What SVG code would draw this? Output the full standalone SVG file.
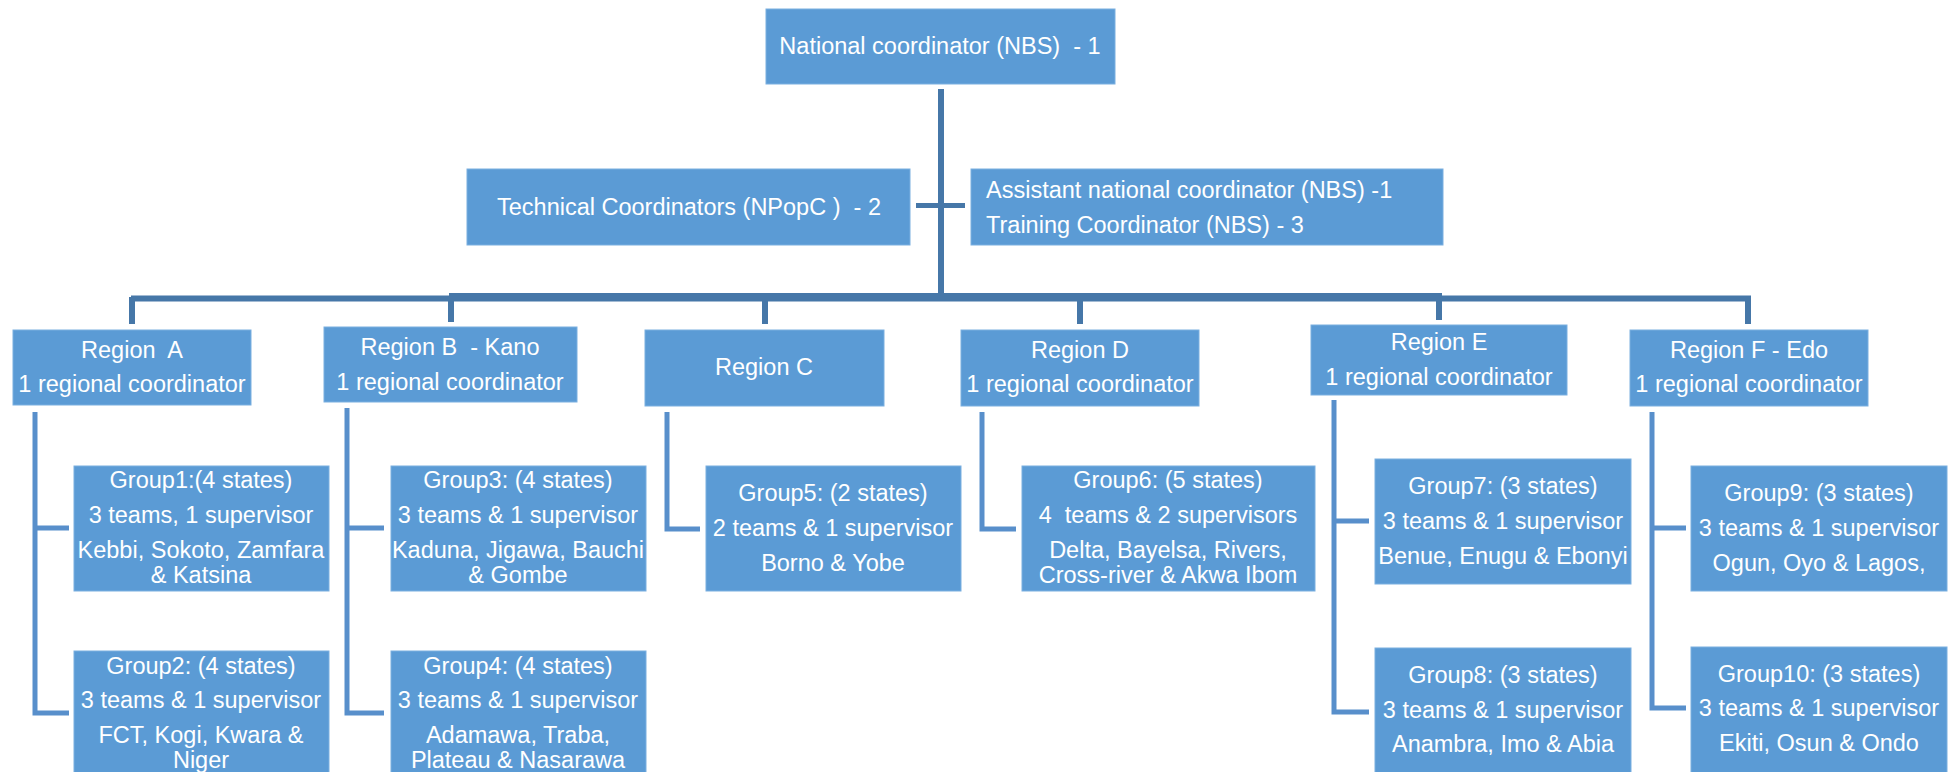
<svg xmlns="http://www.w3.org/2000/svg" width="1957" height="772" viewBox="0 0 1957 772" xml:space="preserve">
<style>
.box{fill:#5B9BD5;stroke:#7BAFE0;stroke-width:1}
.t{font-family:"Liberation Sans",Arial,sans-serif;font-size:23.5px;fill:#FFFFFF;text-anchor:middle;white-space:pre}
.tl{text-anchor:start}
.main{fill:none;stroke:#4677A8;stroke-width:6}
.sub{fill:none;stroke:#588FCB;stroke-width:5}
</style>
<rect width="1957" height="772" fill="#FFFFFF"/>
<g id="connectors">
<line class="main" x1="941" y1="89" x2="941" y2="300"/>
<line class="main" x1="131" y1="298.5" x2="1751" y2="298.5"/>
<line class="main" x1="449" y1="297" x2="1442" y2="297" style="stroke-width:8"/>
<line class="main" x1="132" y1="297" x2="132" y2="324"/>
<line class="main" x1="451" y1="297" x2="451" y2="322"/>
<line class="main" x1="765" y1="297" x2="765" y2="324"/>
<line class="main" x1="1080" y1="297" x2="1080" y2="324"/>
<line class="main" x1="1439" y1="297" x2="1439" y2="320"/>
<line class="main" x1="1748" y1="297" x2="1748" y2="324"/>
<line class="main" x1="916" y1="205.5" x2="965" y2="205.5" style="stroke-width:5"/>
<path class="sub" d="M35 412 V713 H69 M35 528 H69"/>
<path class="sub" d="M347 408 V713 H384 M347 528 H384"/>
<path class="sub" d="M667 412 V529 H700"/>
<path class="sub" d="M982 412 V529 H1016"/>
<path class="sub" d="M1334 400 V712 H1369 M1334 521 H1369"/>
<path class="sub" d="M1652 412 V708 H1686 M1652 528 H1686"/>
</g>
<g id="national">
<rect class="box" x="766" y="9" width="349" height="75"/>
<text class="t" x="940" y="54">National coordinator (NBS)  - 1</text>
</g>
<g id="technical">
<rect class="box" x="467" y="169" width="443" height="76"/>
<text class="t" x="689" y="215">Technical Coordinators (NPopC )  - 2</text>
</g>
<g id="assistant">
<rect class="box" x="971" y="169" width="472" height="76"/>
<text class="t tl" x="986" y="198">Assistant national coordinator (NBS) -1</text>
<text class="t tl" x="986" y="233">Training Coordinator (NBS) - 3</text>
</g>
<g id="regionA">
<rect class="box" x="13" y="330" width="238" height="75"/>
<text class="t" x="132" y="358">Region  A</text>
<text class="t" x="132" y="392">1 regional coordinator</text>
</g>
<g id="regionB">
<rect class="box" x="324" y="327" width="253" height="75"/>
<text class="t" x="450" y="355">Region B  - Kano</text>
<text class="t" x="450" y="390">1 regional coordinator</text>
</g>
<g id="regionC">
<rect class="box" x="645" y="330" width="239" height="76"/>
<text class="t" x="764" y="375">Region C</text>
</g>
<g id="regionD">
<rect class="box" x="961" y="330" width="238" height="76"/>
<text class="t" x="1080" y="358">Region D</text>
<text class="t" x="1080" y="392">1 regional coordinator</text>
</g>
<g id="regionE">
<rect class="box" x="1311" y="325" width="256" height="70"/>
<text class="t" x="1439" y="350">Region E</text>
<text class="t" x="1439" y="385">1 regional coordinator</text>
</g>
<g id="regionF">
<rect class="box" x="1630" y="330" width="238" height="76"/>
<text class="t" x="1749" y="358">Region F - Edo</text>
<text class="t" x="1749" y="392">1 regional coordinator</text>
</g>
<g id="group1">
<rect class="box" x="74" y="466" width="255" height="125"/>
<text class="t" x="201" y="488">Group1:(4 states)</text>
<text class="t" x="201" y="523">3 teams, 1 supervisor</text>
<text class="t" x="201" y="558">Kebbi, Sokoto, Zamfara</text>
<text class="t" x="201" y="583">&amp; Katsina</text>
</g>
<g id="group2">
<rect class="box" x="74" y="651" width="255" height="130"/>
<text class="t" x="201" y="674">Group2: (4 states)</text>
<text class="t" x="201" y="708">3 teams &amp; 1 supervisor</text>
<text class="t" x="201" y="743">FCT, Kogi, Kwara &amp;</text>
<text class="t" x="201" y="768">Niger</text>
</g>
<g id="group3">
<rect class="box" x="391" y="466" width="255" height="125"/>
<text class="t" x="518" y="488">Group3: (4 states)</text>
<text class="t" x="518" y="523">3 teams &amp; 1 supervisor</text>
<text class="t" x="518" y="558">Kaduna, Jigawa, Bauchi</text>
<text class="t" x="518" y="583">&amp; Gombe</text>
</g>
<g id="group4">
<rect class="box" x="391" y="651" width="255" height="130"/>
<text class="t" x="518" y="674">Group4: (4 states)</text>
<text class="t" x="518" y="708">3 teams &amp; 1 supervisor</text>
<text class="t" x="518" y="743">Adamawa, Traba,</text>
<text class="t" x="518" y="768">Plateau &amp; Nasarawa</text>
</g>
<g id="group5">
<rect class="box" x="706" y="466" width="255" height="125"/>
<text class="t" x="833" y="501">Group5: (2 states)</text>
<text class="t" x="833" y="536">2 teams &amp; 1 supervisor</text>
<text class="t" x="833" y="571">Borno &amp; Yobe</text>
</g>
<g id="group6">
<rect class="box" x="1022" y="466" width="293" height="125"/>
<text class="t" x="1168" y="488">Group6: (5 states)</text>
<text class="t" x="1168" y="523">4  teams &amp; 2 supervisors</text>
<text class="t" x="1168" y="558">Delta, Bayelsa, Rivers,</text>
<text class="t" x="1168" y="583">Cross-river &amp; Akwa Ibom</text>
</g>
<g id="group7">
<rect class="box" x="1375" y="459" width="256" height="125"/>
<text class="t" x="1503" y="494">Group7: (3 states)</text>
<text class="t" x="1503" y="529">3 teams &amp; 1 supervisor</text>
<text class="t" x="1503" y="564">Benue, Enugu &amp; Ebonyi</text>
</g>
<g id="group8">
<rect class="box" x="1375" y="648" width="256" height="130"/>
<text class="t" x="1503" y="683">Group8: (3 states)</text>
<text class="t" x="1503" y="718">3 teams &amp; 1 supervisor</text>
<text class="t" x="1503" y="752">Anambra, Imo &amp; Abia</text>
</g>
<g id="group9">
<rect class="box" x="1691" y="466" width="256" height="125"/>
<text class="t" x="1819" y="501">Group9: (3 states)</text>
<text class="t" x="1819" y="536">3 teams &amp; 1 supervisor</text>
<text class="t" x="1819" y="571">Ogun, Oyo &amp; Lagos,</text>
</g>
<g id="group10">
<rect class="box" x="1691" y="647" width="256" height="130"/>
<text class="t" x="1819" y="682">Group10: (3 states)</text>
<text class="t" x="1819" y="716">3 teams &amp; 1 supervisor</text>
<text class="t" x="1819" y="751">Ekiti, Osun &amp; Ondo</text>
</g>
</svg>
